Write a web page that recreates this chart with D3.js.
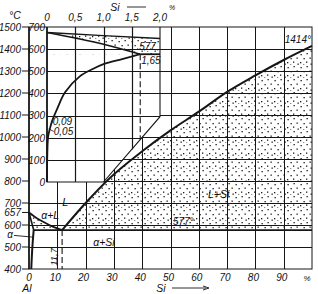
<!DOCTYPE html>
<html>
<head>
<meta charset="utf-8">
<script src="https://cdn.jsdelivr.net/npm/d3@7"></script>
<style>
  body { margin: 0; background: #fff; }
  text { font-family: "Liberation Sans", Arial, sans-serif; font-style: italic; fill: #111; }
</style>
</head>
<body>
<svg id="chart" width="318" height="294"></svg>
<script>
//Data: main Al-Si diagram (Si, wt.% ; T, °C)
const mainYTicks = [1500, 1400, 1300, 1200, 1100, 1000, 900, 800, 700, 657, 600, 500, 400];
const mainGridT = [500, 600, 700, 800, 900, 1000, 1100, 1200, 1300, 1400];
const mainXTicks = [0, 10, 20, 30, 40, 50, 60, 70, 80, 90];
const mainGridX = [10, 20, 30, 40, 50, 60, 70, 80, 90];
const liquidusSi = [[11.7, 577], [20, 700], [28.6, 814], [40, 935], [50, 1030], [60, 1115], [70, 1205], [80, 1280], [90, 1350], [100, 1414]];
const liquidusAl = [[0, 657], [2, 638], [4, 622], [6, 608], [8, 595], [10, 585], [11.7, 577]];
const solidusAl = [[0, 657], [1.65, 577]];
const solvusAl = [[1.65, 577], [1.35, 530], [1.1, 480], [0.9, 430], [0.8, 400]];
const eutecticT = 577;
const eutecticX = 11.7;

//Data: inset (Si 0-2 %, T 0-700 °C)
const insetXTicks = [0, 0.5, 1.0, 1.5, 2.0];
const insetXLabels = ['0', '0,5', '1,0', '1,5', '2,0'];
const insetYTicks = [0, 100, 200, 300, 400, 500, 600, 700];
const insetLiquidus = [[0, 675], [1, 661], [2, 648]];
const insetSolidus = [[0, 675], [1.0, 622], [1.65, 577]];
const insetSolvus = [[1.65, 577], [1.33, 555], [1.0, 532], [0.8, 509], [0.58, 477], [0.32, 405], [0.18, 330], [0.09, 275], [0.05, 240], [0.02, 205], [0.005, 120], [0, 0]];
// inset outline: right edge stops at 295 °C, then a diagonal cut down to 1.0 % at 0 °C
const insetCut = [[1.0, 0], [2, 295]];
const insetMarkX = 1.65;

const svg = d3.select('#chart');
const ink = '#161616';

// scales
const x = d3.scaleLinear().domain([0, 100]).range([29, 312]);
const y = d3.scaleLinear().domain([400, 1500]).range([269, 27]);
const xi = d3.scaleLinear().domain([0, 2]).range([47, 160]);
const yi = d3.scaleLinear().domain([0, 700]).range([182, 27]);
// the diagonal cut as a clamped scale: composition -> temperature
const cut = d3.scaleLinear().domain([insetCut[0][0], insetCut[1][0]]).range([insetCut[0][1], insetCut[1][1]]).clamp(true);
const insetFrame = [[0, 700], [2, 700], insetCut[1], insetCut[0], [0, 0]];
const crisp = v => Math.round(v) + 0.5;

// stipple pattern
const pat = svg.append('defs').append('pattern')
  .attr('id', 'dots').attr('patternUnits', 'userSpaceOnUse')
  .attr('width', 13).attr('height', 13);
[[1.5, 2], [7.5, 1], [4.5, 6], [10.5, 5.5], [1, 10], [7, 9.5], [11.5, 11.5], [4, 12.5]].forEach(([px, py]) =>
  pat.append('rect').attr('x', px).attr('y', py).attr('width', 1.3).attr('height', 1.3).attr('fill', '#1a1a1a'));

const line = (sx, sy, c = d3.curveLinear) => d3.line().x(d => sx(d[0])).y(d => sy(d[1])).curve(c);

// Main stippled regions
svg.append('path')
  .datum(liquidusSi)
  .attr('d', d3.area().x(d => x(d[0])).y1(d => y(d[1])).y0(y(eutecticT)).curve(d3.curveMonotoneX))
  .attr('fill', 'url(#dots)');
svg.append('path')
  .datum(liquidusAl)
  .attr('d', d3.area().x(d => x(d[0])).y1(d => y(d[1])).y0(y(eutecticT)).curve(d3.curveMonotoneX))
  .attr('fill', 'url(#dots)');
svg.append('path')
  .datum([...solidusAl, [0, eutecticT]])
  .attr('d', line(x, y))
  .attr('fill', '#fff');

// Main grid
const grid = svg.append('g').attr('stroke', ink).attr('stroke-width', 1);
mainGridX.forEach(v => grid.append('line')
  .attr('x1', crisp(x(v))).attr('x2', crisp(x(v))).attr('y1', y(1500)).attr('y2', y(400)));
mainGridT.forEach(t => grid.append('line')
  .attr('x1', x(0)).attr('x2', x(100)).attr('y1', crisp(y(t))).attr('y2', crisp(y(t))));

// Inset: white panel over the main grid
svg.append('path')
  .datum([[x(0), yi(700)], [xi(2), yi(700)], [xi(insetCut[1][0]), yi(insetCut[1][1])],
          [xi(insetCut[0][0]), yi(insetCut[0][1])], [x(0), yi(0)]])
  .attr('d', d3.line())
  .attr('fill', '#fff');

// inset stipple (liquidus down to 577, minus the alpha corner)
svg.append('path')
  .datum(insetLiquidus)
  .attr('d', d3.area().x(d => xi(d[0])).y1(d => yi(d[1])).y0(yi(eutecticT)))
  .attr('fill', 'url(#dots)');
svg.append('path')
  .datum([...insetSolidus, [0, eutecticT]])
  .attr('d', line(xi, yi))
  .attr('fill', '#fff');

// inset grid, stopped at the diagonal cut
const igrid = svg.append('g').attr('stroke', ink).attr('stroke-width', 1.2);
insetXTicks.slice(1, -1).forEach(v => igrid.append('line')
  .attr('x1', crisp(xi(v))).attr('x2', crisp(xi(v))).attr('y1', yi(700)).attr('y2', yi(cut(v))));
insetYTicks.slice(1, -1).forEach(t => igrid.append('line')
  .attr('x1', xi(0)).attr('x2', xi(cut.invert(t))).attr('y1', crisp(yi(t))).attr('y2', crisp(yi(t))));

// inset curves
svg.append('path').datum(insetLiquidus).attr('d', line(xi, yi))
  .attr('fill', 'none').attr('stroke', ink).attr('stroke-width', 1.4);
svg.append('path').datum(insetSolidus).attr('d', line(xi, yi, d3.curveMonotoneX))
  .attr('fill', 'none').attr('stroke', ink).attr('stroke-width', 1.6);
svg.append('line')
  .attr('x1', xi(insetMarkX)).attr('x2', xi(2)).attr('y1', yi(eutecticT)).attr('y2', yi(eutecticT))
  .attr('stroke', ink).attr('stroke-width', 1.8);
svg.append('path').datum(insetSolvus).attr('d', line(xi, yi, d3.curveCatmullRom.alpha(0.5)))
  .attr('fill', 'none').attr('stroke', ink).attr('stroke-width', 1.8);
svg.append('line')
  .attr('x1', xi(insetMarkX)).attr('x2', xi(insetMarkX)).attr('y1', yi(eutecticT)).attr('y2', yi(cut(insetMarkX)))
  .attr('stroke', ink).attr('stroke-width', 1.1).attr('stroke-dasharray', '6,3');

// inset frame
svg.append('path').datum(insetFrame.slice(1).concat([insetFrame[0]]))
  .attr('d', line(xi, yi))
  .attr('fill', 'none').attr('stroke', ink).attr('stroke-width', 1.1);

// Main curves
svg.append('path').datum(liquidusSi).attr('d', line(x, y, d3.curveMonotoneX))
  .attr('fill', 'none').attr('stroke', ink).attr('stroke-width', 2);
svg.append('path').datum(liquidusAl).attr('d', line(x, y, d3.curveMonotoneX))
  .attr('fill', 'none').attr('stroke', ink).attr('stroke-width', 1.8);
svg.append('path').datum(solidusAl).attr('d', line(x, y))
  .attr('fill', 'none').attr('stroke', ink).attr('stroke-width', 1.6);
svg.append('path').datum(solvusAl).attr('d', line(x, y, d3.curveMonotoneY))
  .attr('fill', 'none').attr('stroke', ink).attr('stroke-width', 2);
svg.append('line')
  .attr('x1', x(solidusAl[1][0])).attr('x2', x(100)).attr('y1', y(eutecticT)).attr('y2', y(eutecticT))
  .attr('stroke', ink).attr('stroke-width', 1.8);
svg.append('line')
  .attr('x1', x(eutecticX)).attr('x2', x(eutecticX)).attr('y1', y(eutecticT)).attr('y2', y(400))
  .attr('stroke', ink).attr('stroke-width', 1.1).attr('stroke-dasharray', '6,3');

// Main frame
svg.append('rect')
  .attr('x', x(0)).attr('y', y(1500)).attr('width', x(100) - x(0)).attr('height', y(400) - y(1500))
  .attr('fill', 'none').attr('stroke', ink).attr('stroke-width', 1);
svg.append('line')
  .attr('x1', x(0)).attr('x2', x(0)).attr('y1', y(1500)).attr('y2', y(400))
  .attr('stroke', ink).attr('stroke-width', 1.6);
svg.append('line')
  .attr('x1', xi(0)).attr('x2', xi(0)).attr('y1', yi(700)).attr('y2', yi(0))
  .attr('stroke', ink).attr('stroke-width', 1.6);

// Main y axis labels + ticks
mainYTicks.forEach(t => {
  svg.append('line').attr('x1', 22).attr('x2', x(0)).attr('y1', y(t)).attr('y2', y(t))
    .attr('stroke', ink).attr('stroke-width', 1);
  svg.append('text').attr('x', 21).attr('y', y(t)).attr('dy', '0.38em')
    .attr('text-anchor', 'end').attr('font-size', 10).text(t);
});
svg.append('text').attr('x', 15).attr('y', 19).attr('text-anchor', 'middle')
  .attr('font-size', 10.5).text('°C');

// Main x axis labels
mainXTicks.forEach(v => svg.append('text')
  .attr('x', x(v) - (v ? 2 : 0)).attr('y', 281).attr('text-anchor', 'middle')
  .attr('font-size', 10).text(v));
svg.append('text').attr('x', 307).attr('y', 281).attr('text-anchor', 'middle').attr('font-size', 8).text('%');
svg.append('text').attr('x', 27).attr('y', 292).attr('text-anchor', 'middle').attr('font-size', 10.5).text('Al');
svg.append('text').attr('x', 161).attr('y', 292).attr('text-anchor', 'middle').attr('font-size', 10.5).text('Si');
svg.append('line').attr('x1', 172).attr('x2', 206).attr('y1', 288).attr('y2', 288)
  .attr('stroke', ink).attr('stroke-width', 0.9);
svg.append('path').attr('d', 'M203,286 L209,288 L203,290').attr('fill', 'none')
  .attr('stroke', ink).attr('stroke-width', 0.9);

// Inset axis labels
insetYTicks.forEach(t => svg.append('text')
  .attr('x', 45).attr('y', yi(t)).attr('dy', '0.38em')
  .attr('text-anchor', 'end').attr('font-size', 10).text(t));
insetXTicks.forEach((v, i) => svg.append('text')
  .attr('x', xi(v)).attr('y', 21).attr('text-anchor', 'middle')
  .attr('font-size', 10).text(insetXLabels[i]));
svg.append('text').attr('x', 115).attr('y', 11).attr('text-anchor', 'middle').attr('font-size', 10.5).text('Si');
svg.append('line').attr('x1', 127).attr('x2', 146).attr('y1', 7).attr('y2', 7)
  .attr('stroke', ink).attr('stroke-width', 0.9);
svg.append('text').attr('x', 172).attr('y', 10).attr('text-anchor', 'middle').attr('font-size', 7).text('%');

// Inset annotations
svg.append('text').attr('x', xi(1.78)).attr('y', yi(597)).attr('text-anchor', 'middle')
  .attr('font-size', 10).text('577');
svg.append('text').attr('x', xi(1.84)).attr('y', yi(535)).attr('text-anchor', 'middle')
  .attr('font-size', 10).text('1,65');
svg.append('text').attr('x', xi(0.1)).attr('y', yi(258)).attr('font-size', 10).text('0,09');
svg.append('text').attr('x', xi(0.12)).attr('y', yi(214)).attr('font-size', 10).text('0,05');
svg.append('line').attr('x1', xi(0.07)).attr('x2', xi(0.11)).attr('y1', yi(275)).attr('y2', yi(270))
  .attr('stroke', ink).attr('stroke-width', 0.8);
svg.append('line').attr('x1', xi(0.03)).attr('x2', xi(0.12)).attr('y1', yi(240)).attr('y2', yi(228))
  .attr('stroke', ink).attr('stroke-width', 0.8);

// Main annotations
svg.append('text').attr('x', x(12.8)).attr('y', y(685)).attr('text-anchor', 'middle').attr('font-size', 11).text('L');
svg.append('text').attr('x', x(7.5)).attr('y', y(628)).attr('text-anchor', 'middle').attr('font-size', 10.5).text('α+L');
svg.append('text').attr('x', 10).attr('y', y(539)).attr('text-anchor', 'middle').attr('font-size', 10).text('α');
svg.append('line').attr('x1', 14).attr('x2', x(1.2)).attr('y1', y(539) - 3).attr('y2', y(545))
  .attr('stroke', ink).attr('stroke-width', 0.9);
svg.append('text').attr('x', x(26.5)).attr('y', y(505)).attr('text-anchor', 'middle').attr('font-size', 10.5).text('α+Si');
svg.append('text').attr('x', x(67)).attr('y', y(725)).attr('text-anchor', 'middle').attr('font-size', 10.5).text('L+Si');
svg.append('text').attr('x', x(54.5)).attr('y', y(598)).attr('text-anchor', 'middle').attr('font-size', 10).text('577°');
svg.append('text').attr('x', 311).attr('y', y(1428)).attr('text-anchor', 'end').attr('font-size', 10).text('1414°');
svg.append('text')
  .attr('transform', `translate(${x(eutecticX) - 5},${y(455)}) rotate(-90)`)
  .attr('text-anchor', 'middle').attr('font-size', 9.5).text('11,7');
</script>
</body>
</html>
